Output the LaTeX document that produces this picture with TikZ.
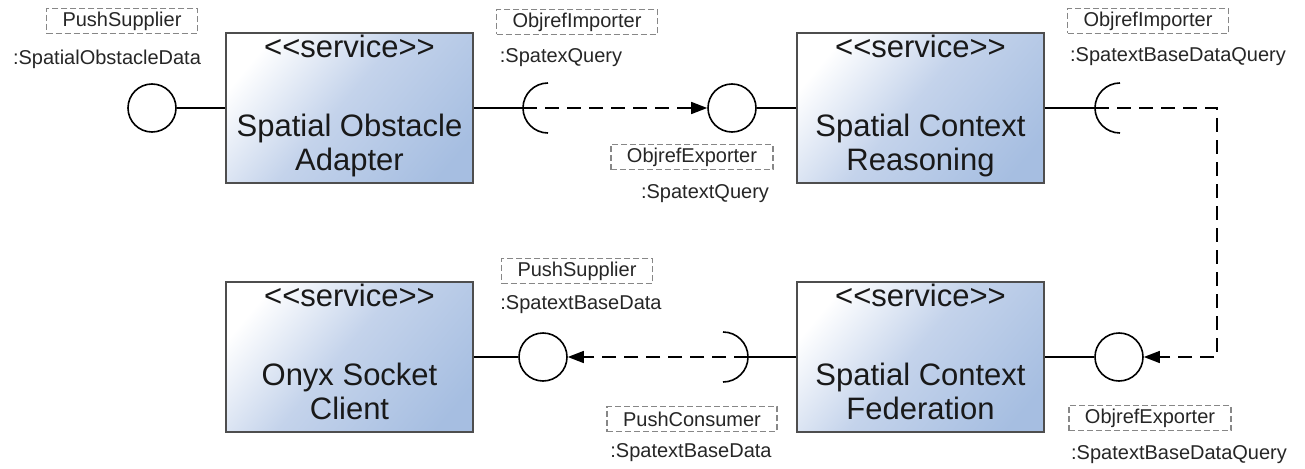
\documentclass[tikz,border=0pt]{standalone}
\usepackage{fontspec}
\setmainfont{Liberation Sans}[Ligatures=TeXOff]
\usepackage{tikz}
\usetikzlibrary{arrows.meta}
\definecolor{boxlight}{RGB}{196,211,235}
\definecolor{boxblue}{RGB}{166,190,225}
\definecolor{boxedge}{RGB}{78,78,78}
\definecolor{portgray}{RGB}{135,135,135}
\pgfdeclarehorizontalshading{compshade}{100bp}{color(0bp)=(white); color(24bp)=(white); color(48bp)=(boxlight); color(78bp)=(boxblue); color(100bp)=(boxblue)}

\begin{document}
\begin{tikzpicture}[
		x=1pt,
		y=1pt,
		component/.style={draw=boxedge, line width=1.5pt, shading=compshade, shading angle=-40, minimum width=247pt, minimum height=150pt, inner sep=0pt},
		stereo/.style={font=\fontsize{31}{34}\selectfont, text=black!90, inner sep=0pt, anchor=base},
		compname/.style={font=\fontsize{31}{34}\selectfont, text=black!90, align=center, inner sep=0pt, anchor=north},
		iface/.style={circle, draw, line width=1.6pt, fill=white, minimum size=48pt, inner sep=0pt},
		wire/.style={line width=1.5pt},
		socket/.style={line width=1.6pt},
		dep/.style={line width=1.5pt, dash pattern=on 14pt off 8pt, -{Triangle[length=16pt,width=12pt]}},
		port/.style={draw=portgray, line width=1.3pt, dash pattern=on 6pt off 3pt, font=\fontsize{20}{24}\selectfont, text=black!85, inner xsep=16pt, inner ysep=0pt, minimum height=25pt},
		portname/.style={font=\fontsize{20}{24}\selectfont, text=black!85, inner sep=0pt}
		]
		\useasboundingbox (0,0) rectangle (1305,-468);
		
		% Spatial Obstacle Adapter
		\node[component] (soa) at (349.5,-108) {};
		\node[stereo] (soa-st) at ([yshift=-25pt]soa.north) {<<service>>};
		\node[compname] (soa-nm) at ([yshift=-82pt]soa.north) {Spatial Obstacle\\Adapter};
		
		% its provided port
		\node[iface] (sod) at (152,-108) {};
		\draw[wire] (sod.east) -- (soa.west);
		\node[port] (sod-port) at (122,-21) {PushSupplier};
		\node[portname] (sod-name) at (107,-59) {:SpatialObstacleData};
		
		% its required port
		\coordinate (sq-req) at (523,-108);
		\draw[wire] (soa.east) -- (sq-req);
		\draw[socket] ([shift={(25,25)}]sq-req) arc[start angle=90, end angle=270, radius=25pt];
		\node[port] (sq-req-port) at (577,-22) {ObjrefImporter};
		\node[portname] (sq-req-name) at (561,-58) {:SpatexQuery};
		
		% Spatial Context Reasoning
		\node[component] (scr) at (920.5,-108) {};
		\node[stereo] (scr-st) at ([yshift=-25pt]scr.north) {<<service>>};
		\node[compname] (scr-nm) at ([yshift=-82pt]scr.north) {Spatial Context\\Reasoning};
		
		\node[iface] (sq-prov) at (732,-108) {};
		\draw[wire] (sq-prov.east) -- (scr.west);
		\draw[dep] (sq-req) -- (sq-prov.west);
		\node[port] (sq-prov-port) at (692,-157) {ObjrefExporter};
		\node[portname] (sq-prov-name) at (705,-194) {:SpatextQuery};
		
		\coordinate (bq-req) at (1095,-108);
		\draw[wire] (scr.east) -- (bq-req);
		\draw[socket] ([shift={(25,25)}]bq-req) arc[start angle=90, end angle=270, radius=25pt];
		\node[port] (bq-req-port) at (1148,-21) {ObjrefImporter};
		\node[portname] (bq-req-name) at (1178,-57) {:SpatextBaseDataQuery};
		
		% Spatial Context Federation
		\node[component] (scf) at (920.5,-357) {};
		\node[stereo] (scf-st) at ([yshift=-25pt]scf.north) {<<service>>};
		\node[compname] (scf-nm) at ([yshift=-82pt]scf.north) {Spatial Context\\Federation};
		
		\node[iface] (bq-prov) at (1119,-357) {};
		\draw[wire] (bq-prov.west) -- (scf.east);
		\coordinate (bq-turn) at (1217,-108);
		\draw[dep] (bq-req) -- (bq-turn) |- (bq-prov.east);
		\node[port] (bq-prov-port) at (1150,-418) {ObjrefExporter};
		\node[portname] (bq-prov-name) at (1179,-455) {:SpatextBaseDataQuery};
		
		\coordinate (bd-req) at (748,-357);
		\draw[wire] (scf.west) -- (bd-req);
		\draw[socket] ([shift={(-25,25)}]bd-req) arc[start angle=90, end angle=-90, radius=25pt];
		\node[port] (bd-req-port) at (692,-419) {PushConsumer};
		\node[portname] (bd-req-name) at (691,-453) {:SpatextBaseData};
		
		% Onyx Socket Client
		\node[component] (osc) at (349.5,-357) {};
		\node[stereo] (osc-st) at ([yshift=-25pt]osc.north) {<<service>>};
		\node[compname] (osc-nm) at ([yshift=-82pt]osc.north) {Onyx Socket\\Client};
		
		\node[iface] (bd-prov) at (543,-357) {};
		\draw[wire] (osc.east) -- (bd-prov.west);
		\draw[dep] (bd-req) -- (bd-prov.east);
		\node[port] (bd-prov-port) at (577,-271) {PushSupplier};
		\node[portname] (bd-prov-name) at (581,-305) {:SpatextBaseData};
		
	\end{tikzpicture}
\end{document}
